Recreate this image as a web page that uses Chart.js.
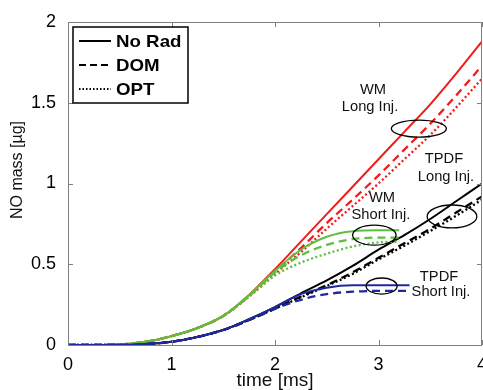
<!DOCTYPE html>
<html>
<head>
<meta charset="utf-8">
<script src="https://cdn.jsdelivr.net/npm/chart.js@4.4.1/dist/chart.umd.min.js"></script>
<style>
html, body { margin: 0; padding: 0; background: #fff; }
#noChart { display: block; }
</style>
</head>
<body>
<canvas id="noChart" width="483" height="390"></canvas>
<script>
// time [ms]
const longTime      = [0, 0.25, 0.5, 0.75, 1, 1.25, 1.5, 1.75, 2, 2.25, 2.5, 2.75, 3, 3.25, 3.5, 3.75, 4];
const wmShortTime   = [0, 0.25, 0.5, 0.75, 1, 1.25, 1.5, 1.75, 2, 2.25, 2.5, 2.75, 3, 3.2];
const tpdfShortTime = [0, 0.25, 0.5, 0.75, 1, 1.25, 1.5, 1.75, 2, 2.25, 2.5, 2.75, 3, 3.3];

// NO mass [ug] - WM, long injection
const wmLongNoRad = [0, 0, 0.003, 0.02, 0.055, 0.105, 0.18, 0.31, 0.47, 0.64, 0.81, 0.98, 1.15, 1.32, 1.49, 1.68, 1.88];
const wmLongDom   = [0, 0, 0.003, 0.02, 0.055, 0.105, 0.18, 0.305, 0.455, 0.60, 0.755, 0.90, 1.05, 1.21, 1.37, 1.545, 1.73];
const wmLongOpt   = [0, 0, 0.003, 0.02, 0.055, 0.105, 0.18, 0.30, 0.44, 0.575, 0.72, 0.86, 1.00, 1.15, 1.30, 1.47, 1.65];

// WM, short injection
const wmShortNoRad = [0, 0, 0.003, 0.02, 0.055, 0.105, 0.18, 0.31, 0.46, 0.59, 0.67, 0.705, 0.71, 0.71];
const wmShortDom   = [0, 0, 0.003, 0.02, 0.055, 0.105, 0.18, 0.305, 0.45, 0.555, 0.62, 0.655, 0.665, 0.665];
const wmShortOpt   = [0, 0, 0.003, 0.02, 0.055, 0.105, 0.18, 0.30, 0.43, 0.51, 0.565, 0.61, 0.635, 0.64];

// TPDF, long injection
const tpdfLongNoRad = [0, 0, 0.001, 0.006, 0.02, 0.05, 0.093, 0.16, 0.235, 0.32, 0.40, 0.49, 0.59, 0.68, 0.78, 0.89, 1.0];
const tpdfLongDom   = [0, 0, 0.001, 0.006, 0.02, 0.05, 0.093, 0.155, 0.225, 0.30, 0.37, 0.45, 0.54, 0.63, 0.72, 0.82, 0.92];
const tpdfLongOpt   = [0, 0, 0.001, 0.006, 0.02, 0.05, 0.093, 0.155, 0.225, 0.295, 0.365, 0.44, 0.53, 0.615, 0.705, 0.80, 0.90];

// TPDF, short injection
const tpdfShortNoRad = [0, 0, 0.001, 0.006, 0.02, 0.05, 0.093, 0.16, 0.235, 0.315, 0.355, 0.37, 0.37, 0.37];
const tpdfShortDom   = [0, 0, 0.001, 0.006, 0.02, 0.05, 0.093, 0.155, 0.225, 0.28, 0.315, 0.33, 0.335, 0.335];

const legendNames = ['No Rad', 'DOM', 'OPT'];

const RED = 'rgb(240,28,28)';
const GREEN = 'rgb(95,190,60)';
const BLUE = 'rgb(32,40,160)';
const BLACK = '#000';
const DASHES = { solid: [], dash: [8, 5], dot: [2, 2.5] };

function series(label, times, values, color, style) {
    return {
        label: label,
        data: times.map((t, i) => ({ x: t, y: values[i] })),
        borderColor: color,
        borderWidth: style === 'solid' ? 2 : 2.3,
        borderDash: DASHES[style],
        pointRadius: 0,
        cubicInterpolationMode: 'monotone',
        fill: false
    };
}

// first dataset is drawn on top
const datasets = [
    series('TPDF short No Rad', tpdfShortTime, tpdfShortNoRad, BLUE, 'solid'),
    series('TPDF short DOM', tpdfShortTime, tpdfShortDom, BLUE, 'dash'),
    series('WM short No Rad', wmShortTime, wmShortNoRad, GREEN, 'solid'),
    series('WM short DOM', wmShortTime, wmShortDom, GREEN, 'dash'),
    series('WM short OPT', wmShortTime, wmShortOpt, GREEN, 'dot'),
    series('TPDF long No Rad', longTime, tpdfLongNoRad, BLACK, 'solid'),
    series('TPDF long DOM', longTime, tpdfLongDom, BLACK, 'dash'),
    series('TPDF long OPT', longTime, tpdfLongOpt, BLACK, 'dot'),
    series('WM long No Rad', longTime, wmLongNoRad, RED, 'solid'),
    series('WM long DOM', longTime, wmLongDom, RED, 'dash'),
    series('WM long OPT', longTime, wmLongOpt, RED, 'dot')
];

// ellipses round the curves, in data units
const callouts = [
    { cx: 3.39, cy: 1.34, rx: 0.266, ry: 0.053 },
    { cx: 3.71, cy: 0.796, rx: 0.24, ry: 0.071 },
    { cx: 2.96, cy: 0.68, rx: 0.21, ry: 0.062 },
    { cx: 3.03, cy: 0.365, rx: 0.15, ry: 0.05 }
];
const notes = [
    { x: 2.947, y: 1.579, text: 'WM' },
    { x: 2.918, y: 1.474, text: 'Long Inj.' },
    { x: 3.633, y: 1.152, text: 'TPDF' },
    { x: 3.652, y: 1.040, text: 'Long Inj.' },
    { x: 3.034, y: 0.910, text: 'WM' },
    { x: 3.024, y: 0.805, text: 'Short Inj.' },
    { x: 3.585, y: 0.421, text: 'TPDF' },
    { x: 3.604, y: 0.328, text: 'Short Inj.' }
];

function stretchText(ctx, text, x, y, sx) {
    ctx.save();
    ctx.translate(x, y);
    ctx.scale(sx, 1);
    ctx.fillText(text, 0, 0);
    ctx.restore();
}

const matlabFrame = {
    id: 'matlabFrame',
    afterDraw(chart) {
        const ctx = chart.ctx;
        const area = chart.chartArea;
        const xs = chart.scales.x, ys = chart.scales.y;
        ctx.save();

        // box and inward ticks
        ctx.strokeStyle = '#808080';
        ctx.lineWidth = 1;
        ctx.strokeRect(area.left + 0.5, area.top + 0.5, area.right - area.left - 1, area.bottom - area.top);
        const tl = 5;
        ctx.beginPath();
        xs.ticks.forEach(t => {
            const px = Math.round(xs.getPixelForValue(t.value)) + 0.5;
            ctx.moveTo(px, area.bottom); ctx.lineTo(px, area.bottom - tl);
            ctx.moveTo(px, area.top); ctx.lineTo(px, area.top + tl);
        });
        ys.ticks.forEach(t => {
            const py = Math.round(ys.getPixelForValue(t.value)) + 0.5;
            ctx.moveTo(area.left, py); ctx.lineTo(area.left + tl, py);
            ctx.moveTo(area.right, py); ctx.lineTo(area.right - tl, py);
        });
        ctx.stroke();

        // ellipses
        ctx.strokeStyle = '#000';
        ctx.lineWidth = 1.3;
        const kx = xs.getPixelForValue(1) - xs.getPixelForValue(0);
        const ky = ys.getPixelForValue(0) - ys.getPixelForValue(1);
        callouts.forEach(c => {
            ctx.beginPath();
            ctx.ellipse(xs.getPixelForValue(c.cx), ys.getPixelForValue(c.cy), c.rx * kx, c.ry * ky, 0, 0, Math.PI * 2);
            ctx.stroke();
        });

        // annotation text
        ctx.fillStyle = '#111';
        ctx.font = '14px "Liberation Sans", Arial, sans-serif';
        ctx.textAlign = 'center';
        ctx.textBaseline = 'middle';
        notes.forEach(n => {
            stretchText(ctx, n.text, xs.getPixelForValue(n.x), ys.getPixelForValue(n.y), 1.05);
        });

        // legend box
        const lx = area.left + 5, ly = area.top + 5, lw = 115, lh = 76;
        ctx.fillStyle = '#fff';
        ctx.fillRect(lx, ly, lw, lh);
        ctx.strokeStyle = '#000';
        ctx.lineWidth = 1.5;
        ctx.strokeRect(lx, ly, lw, lh);
        const styles = ['solid', 'dash', 'dot'];
        ctx.font = 'bold 17px "Liberation Sans", Arial, sans-serif';
        ctx.textAlign = 'left';
        legendNames.forEach((name, i) => {
            const y = ly + 14 + i * 24;
            ctx.beginPath();
            ctx.setLineDash(styles[i] === 'dash' ? [7, 4] : (styles[i] === 'dot' ? [1.5, 2] : []));
            ctx.lineWidth = 2;
            ctx.moveTo(lx + 6, y);
            ctx.lineTo(lx + 38, y);
            ctx.stroke();
            ctx.setLineDash([]);
            ctx.fillStyle = '#000';
            stretchText(ctx, name, lx + 43, y + 1, 1.1);
        });

        // y axis title
        ctx.fillStyle = '#111';
        ctx.font = '16px "Liberation Sans", Arial, sans-serif';
        ctx.textAlign = 'center';
        ctx.save();
        ctx.translate(18, 170);
        ctx.rotate(-Math.PI / 2);
        ctx.fillText('NO mass [\u00b5g]', 0, 0);
        ctx.restore();

        ctx.restore();
    }
};

const tickFont = { family: '"Liberation Sans", Arial, sans-serif', size: 18 };

new Chart(document.getElementById('noChart'), {
    type: 'line',
    data: { datasets: datasets },
    options: {
        responsive: false,
        animation: false,
        devicePixelRatio: 1,
        layout: { padding: { top: 22, right: 1, left: 0, bottom: 0 } },
        plugins: { legend: { display: false }, tooltip: { enabled: false } },
        scales: {
            x: {
                type: 'linear',
                min: 0, max: 4,
                grid: { display: false },
                border: { display: false },
                ticks: { stepSize: 1, color: '#000', font: tickFont, padding: 1, maxRotation: 0 },
                title: {
                    display: true, text: 'time [ms]', color: '#111',
                    font: { family: '"Liberation Sans", Arial, sans-serif', size: 19, lineHeight: 1 },
                    padding: { top: 0, bottom: 0 }
                },
                afterFit: function(scale) {
                    scale.height = 45;
                    scale.paddingLeft = 0;
                    scale.paddingRight = 0;
                }
            },
            y: {
                min: 0, max: 2,
                grid: { display: false },
                border: { display: false },
                ticks: {
                    stepSize: 0.5, color: '#000', font: tickFont, padding: 4,
                    callback: value => String(value)
                },
                afterFit: function(scale) {
                    scale.width = 68;
                    scale.paddingTop = 0;
                    scale.paddingBottom = 0;
                }
            }
        }
    },
    plugins: [matlabFrame]
});
</script>
</body>
</html>
